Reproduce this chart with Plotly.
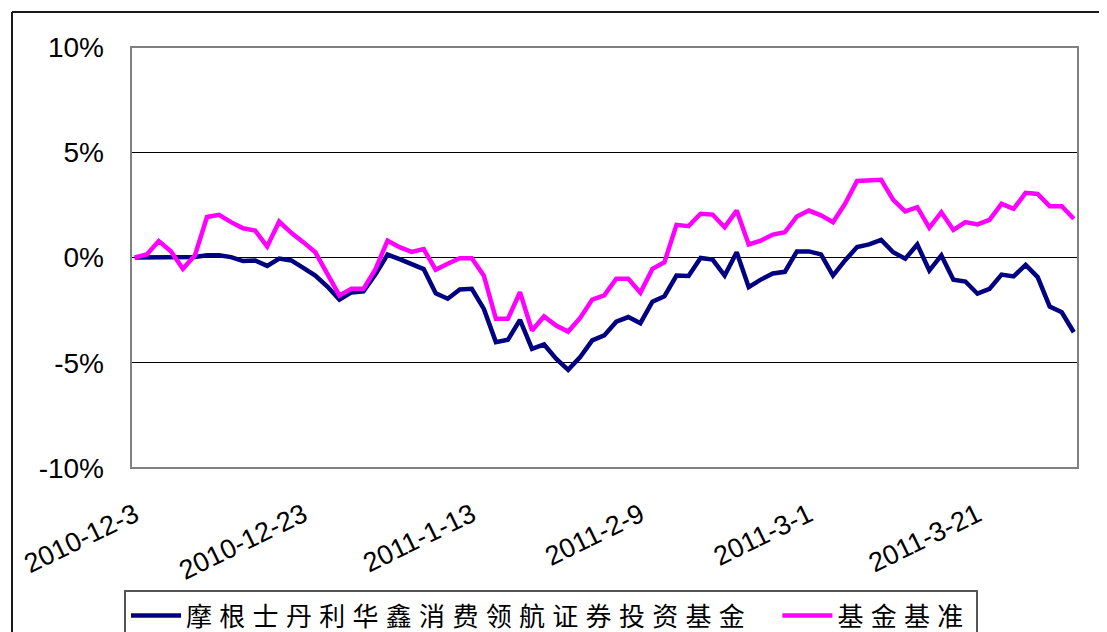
import plotly.graph_objects as go

dates = [
    "2010-12-3", "2010-12-6", "2010-12-7", "2010-12-8", "2010-12-9", "2010-12-10",
    "2010-12-13", "2010-12-14", "2010-12-15", "2010-12-16", "2010-12-17",
    "2010-12-20", "2010-12-21", "2010-12-22", "2010-12-23", "2010-12-24",
    "2010-12-27", "2010-12-28", "2010-12-29", "2010-12-30", "2010-12-31",
    "2011-1-4", "2011-1-5", "2011-1-6", "2011-1-7",
    "2011-1-10", "2011-1-11", "2011-1-12", "2011-1-13", "2011-1-14",
    "2011-1-17", "2011-1-18", "2011-1-19", "2011-1-20", "2011-1-21",
    "2011-1-24", "2011-1-25", "2011-1-26", "2011-1-27", "2011-1-28",
    "2011-1-31", "2011-2-1",
    "2011-2-9", "2011-2-10", "2011-2-11",
    "2011-2-14", "2011-2-15", "2011-2-16", "2011-2-17", "2011-2-18",
    "2011-2-21", "2011-2-22", "2011-2-23", "2011-2-24", "2011-2-25",
    "2011-2-28", "2011-3-1", "2011-3-2", "2011-3-3", "2011-3-4",
    "2011-3-7", "2011-3-8", "2011-3-9", "2011-3-10", "2011-3-11",
    "2011-3-14", "2011-3-15", "2011-3-16", "2011-3-17", "2011-3-18",
    "2011-3-21", "2011-3-22", "2011-3-23", "2011-3-24", "2011-3-25",
    "2011-3-28", "2011-3-29", "2011-3-30", "2011-3-31",
]

fund_name = "摩根士丹利华鑫消费领航证券投资基金"
bench_name = "基金基准"

# percent values
fund = [
    0.00, 0.00, 0.00, -0.02, -0.03, 0.02, 0.11, 0.11, 0.02, -0.17,
    -0.14, -0.40, -0.05, -0.14, -0.49, -0.86, -1.38, -2.00, -1.66, -1.61,
    -0.80, 0.14, -0.08, -0.30, -0.55, -1.70, -1.96, -1.52, -1.49, -2.44,
    -4.02, -3.91, -2.96, -4.34, -4.13, -4.81, -5.34, -4.73, -3.94, -3.70,
    -3.05, -2.83, -3.12, -2.10, -1.84, -0.86, -0.88, -0.02, -0.10, -0.86,
    0.25, -1.41, -1.05, -0.76, -0.68, 0.29, 0.29, 0.15, -0.86, -0.14,
    0.50, 0.62, 0.84, 0.25, -0.06, 0.62, -0.62, 0.10, -1.06, -1.14,
    -1.72, -1.49, -0.81, -0.90, -0.35, -0.93, -2.33, -2.60, -3.55,
]

bench = [
    0.00, 0.14, 0.78, 0.30, -0.54, 0.10, 1.92, 2.03, 1.68, 1.39,
    1.28, 0.52, 1.71, 1.17, 0.73, 0.25, -0.78, -1.80, -1.49, -1.49,
    -0.55, 0.80, 0.49, 0.27, 0.40, -0.58, -0.30, -0.03, -0.03, -0.86,
    -2.91, -2.91, -1.65, -3.47, -2.80, -3.23, -3.52, -2.87, -2.00, -1.80,
    -1.01, -1.01, -1.67, -0.54, -0.22, 1.55, 1.49, 2.08, 2.04, 1.44,
    2.23, 0.62, 0.80, 1.09, 1.20, 1.95, 2.23, 2.00, 1.68, 2.55,
    3.64, 3.69, 3.69, 2.74, 2.19, 2.39, 1.41, 2.15, 1.31, 1.68,
    1.57, 1.79, 2.55, 2.31, 3.07, 3.02, 2.44, 2.44, 1.84,
]

x_tick_labels = ["2010-12-3", "2010-12-23", "2011-1-13", "2011-2-9", "2011-3-1", "2011-3-21"]
y_tick_values = [-10, -5, 0, 5, 10]
y_tick_labels = ["-10%", "-5%", "0%", "5%", "10%"]

# page offset of the plot div (default body margin)
OFF = 8
PAGE_W, PAGE_H = 1107, 632
W, H = PAGE_W - OFF, PAGE_H - OFF
# plot area in page pixels
PL, PR, PT, PB = 131, 1078, 47, 468
L, R, T, B = PL - OFF, PAGE_W - PR, PT - OFF, PAGE_H - PB
pw, ph = W - L - R, H - T - B


def paper_x(page_px):
    return (page_px - OFF - L) / pw


def paper_y(page_py):
    return (H - B - (page_py - OFF)) / ph


def cont_x(page_px):
    return (page_px - OFF) / W


def cont_y(page_py):
    return 1 - (page_py - OFF) / H


def spaced(s, tail=""):
    return f'<span style="letter-spacing:7.3px">{s}{tail}</span>'


fig = go.Figure()
fig.add_trace(go.Scatter(
    x=dates, y=fund, mode="lines", name=spaced(fund_name, "\u2002"),
    line=dict(color="#000080", width=4.5),
))
fig.add_trace(go.Scatter(
    x=dates, y=bench, mode="lines", name=spaced(bench_name),
    line=dict(color="#FF00FF", width=4.5),
))

fig.update_layout(
    width=W, height=H,
    margin=dict(l=L, r=R, t=T, b=B, pad=0, autoexpand=False),
    paper_bgcolor="white", plot_bgcolor="white",
    showlegend=True,
    legend=dict(
        orientation="h",
        xref="container", yref="container",
        x=cont_x(124), y=cont_y(590), xanchor="left", yanchor="top",
        bgcolor="white", bordercolor="#555555", borderwidth=2,
        font=dict(family="Noto Sans CJK SC", size=26, color="black"),
        itemwidth=50,
    ),
    xaxis=dict(
        type="category",
        range=[-0.31, 78.35],
        tickmode="array", tickvals=x_tick_labels, ticktext=x_tick_labels,
        tickangle=-26,
        tickfont=dict(family="Liberation Sans, Arial", size=27, color="black"),
        showgrid=False, zeroline=False, showline=False, ticks="",
        ticklabelstandoff=25,
    ),
    yaxis=dict(
        range=[-10, 10],
        tickmode="array", tickvals=y_tick_values, ticktext=y_tick_labels,
        tickfont=dict(family="Liberation Sans, Arial", size=28, color="black"),
        showgrid=True, gridcolor="black", gridwidth=1,
        zeroline=False, showline=False, ticks="",
        ticklabelstandoff=26,
    ),
    shapes=[
        dict(type="rect", xref="paper", yref="paper", x0=0, x1=1, y0=0, y1=1,
             line=dict(color="#808080", width=2), layer="above"),
        dict(type="line", xref="paper", yref="paper",
             x0=paper_x(12), x1=paper_x(12), y0=paper_y(640), y1=paper_y(12),
             line=dict(color="#1a1a1a", width=2)),
        dict(type="line", xref="paper", yref="paper",
             x0=paper_x(12), x1=paper_x(1110), y0=paper_y(12), y1=paper_y(12),
             line=dict(color="#1a1a1a", width=2)),
    ],
)

fig.write_html("out.html")
